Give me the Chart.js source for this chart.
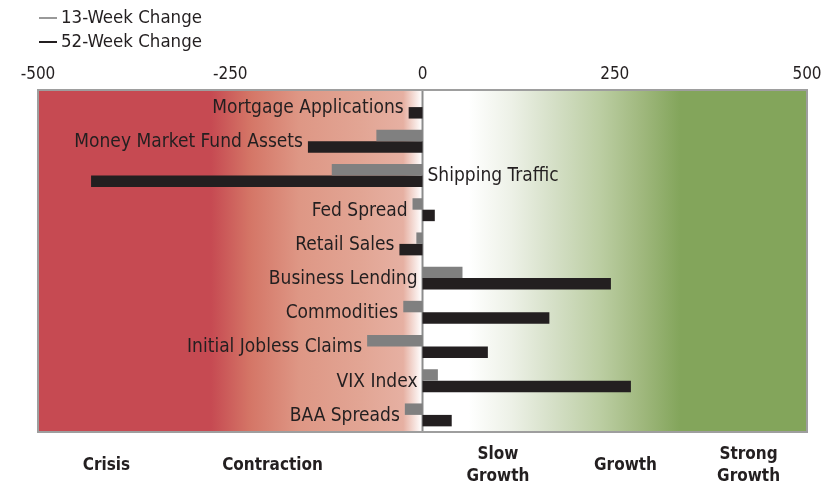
<!DOCTYPE html>
<html>
<head>
<meta charset="utf-8">
<script src="https://cdn.jsdelivr.net/npm/chart.js@4.4.1/dist/chart.umd.min.js"></script>
<style>
html,body{margin:0;padding:0;background:#fff;}
#wrap{position:relative;width:831px;height:486px;}
</style>
</head>
<body>
<div id="wrap"><canvas id="c" width="831" height="486"></canvas></div>
<script>
const categories = ["Mortgage Applications","Money Market Fund Assets","Shipping Traffic","Fed Spread","Retail Sales","Business Lending","Commodities","Initial Jobless Claims","VIX Index","BAA Spreads"];
const change13 = [0,-60,-118,-13,-8,52,-25,-72,20,-23];
const change52 = [-18,-149,-431,16,-30,245,165,85,271,38];
const labelRightOfZero = ["Shipping Traffic"];
const xTicks = [-500,-250,0,250,500];
const zoneLabels = [["Crisis"],["Contraction"],["Slow","Growth"],["Growth"],["Strong","Growth"]];
const zonePositions = [-411,-195,98,264,424];
const seriesNames = ["13-Week Change","52-Week Change"];

const FONT = '"DejaVu Sans Condensed","Roboto Condensed",sans-serif';
const TXT = '#231F20';

const bgPlugin = {
  id:'bg',
  beforeDraw(chart){
    const {ctx, chartArea:a, scales:{x}} = chart;
    const stops = [[-500,'#C64A52'],[-275,'#C64A52'],[-225,'#D47566'],[-160,'#DE9785'],[-80,'#E2A594'],[-25,'#E6B0A2'],[-1,'#FFFFFF'],[60,'#FFFFFF'],[115,'#EDF1E7'],[175,'#D3DEC4'],[230,'#BCCEA3'],[290,'#9DB67A'],[335,'#83A55B'],[500,'#83A55B']];
    const g = ctx.createLinearGradient(a.left,0,a.right,0);
    stops.forEach(([v,c])=>{ g.addColorStop((x.getPixelForValue(v)-a.left)/(a.right-a.left), c); });
    ctx.save();
    ctx.fillStyle = g;
    ctx.fillRect(a.left,a.top,a.right-a.left,a.bottom-a.top);
    const z = x.getPixelForValue(0);
    ctx.strokeStyle='#8C8C8C'; ctx.lineWidth=2;
    ctx.beginPath(); ctx.moveTo(z,a.top); ctx.lineTo(z,a.bottom); ctx.stroke();
    ctx.restore();
  },
  afterDatasetsDraw(chart){
    const {ctx, chartArea:a, scales:{x,y}} = chart;
    ctx.save();
    ctx.strokeStyle='#9E9E9E'; ctx.lineWidth=2;
    ctx.strokeRect(a.left,a.top,a.right-a.left,a.bottom-a.top);
    ctx.font = '19px '+FONT;
    ctx.fillStyle = TXT;
    ctx.textBaseline='middle';
    categories.forEach((c,i)=>{
      const yc = y.getPixelForValue(i)+1;
      if (labelRightOfZero.includes(c)) {
        ctx.textAlign='left';
        ctx.fillText(c, x.getPixelForValue(0)+5, yc);
      } else {
        const m = Math.min(0, change13[i], change52[i]);
        ctx.textAlign='right';
        ctx.fillText(c, x.getPixelForValue(m)-5, yc);
      }
    });
    ctx.font = 'bold 17px '+FONT;
    ctx.textAlign='center';
    zoneLabels.forEach((lines,i)=>{
      const px = x.getPixelForValue(zonePositions[i]);
      if (lines.length===1) ctx.fillText(lines[0], px, 466);
      else { ctx.fillText(lines[0], px, 455); ctx.fillText(lines[1], px, 477); }
    });
    ctx.font = '18.5px '+FONT;
    ctx.textAlign='left';
    const cols=['#999999','#231F20'];
    seriesNames.forEach((n,i)=>{
      const ly = 18+i*24;
      ctx.strokeStyle=cols[i]; ctx.lineWidth=2;
      ctx.beginPath(); ctx.moveTo(39,ly); ctx.lineTo(57,ly); ctx.stroke();
      ctx.fillText(n, 61, ly);
    });
    ctx.restore();
  }
};

new Chart(document.getElementById('c'), {
  type:'bar',
  data:{
    labels: categories,
    datasets:[
      {label:seriesNames[0], data:change13, backgroundColor:'#808080', categoryPercentage:0.67, barPercentage:1.0},
      {label:seriesNames[1], data:change52, backgroundColor:'#231F20', categoryPercentage:0.67, barPercentage:1.0}
    ]
  },
  options:{
    indexAxis:'y',
    responsive:false,
    animation:false,
    devicePixelRatio:1,
    layout:{padding:{left:38,right:24,top:56,bottom:54}},
    plugins:{legend:{display:false},tooltip:{enabled:false}},
    scales:{
      x:{
        position:'top', min:-500, max:500,
        afterBuildTicks(s){ s.ticks = xTicks.map(v=>({value:v})); },
        afterFit(s){ s.height = 34; },
        grid:{display:false}, border:{display:false},
        ticks:{font:{family:FONT,size:17}, color:TXT, padding:-3, maxRotation:0, autoSkip:false}
      },
      y:{display:false}
    }
  },
  plugins:[bgPlugin]
});
</script>
</body>
</html>
